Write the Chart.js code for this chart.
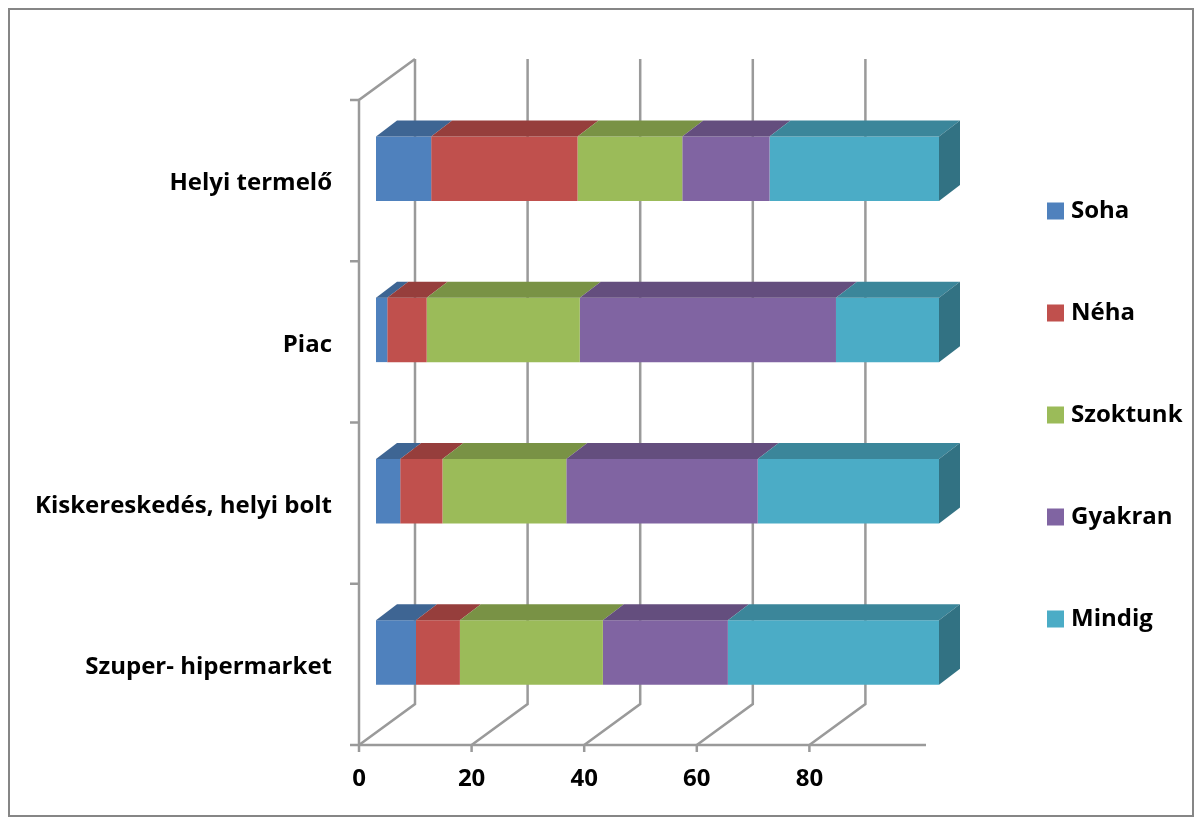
<!DOCTYPE html>
<html>
<head>
<meta charset="utf-8">
<script src="https://cdn.jsdelivr.net/npm/chart.js@4"></script>
<style>
  html, body { margin: 0; padding: 0; background: #fff; }
  #wrap { width: 1202px; height: 825px; position: relative; }
</style>
</head>
<body>
<div id="wrap"><canvas id="chart" width="1202" height="825"></canvas></div>
<script>
const categories = ['Helyi termelő', 'Piac', 'Kiskereskedés, helyi bolt', 'Szuper- hipermarket'];
const seriesNames = ['Soha', 'Néha', 'Szoktunk', 'Gyakran', 'Mindig'];
const soha     = [9.8, 2.0, 4.3, 7.1];
const neha     = [26.0, 7.0, 7.5, 7.8];
const szoktunk = [18.6, 27.2, 22.0, 25.4];
const gyakran  = [15.5, 45.5, 34.0, 22.2];
const mindig   = [30.1, 18.3, 32.2, 37.5];
const xTicks = [0, 20, 40, 60, 80];

const colors = ['#4F81BD', '#C0504D', '#9BBB59', '#8064A2', '#4BACC6'];
const FONT = '"Open Sans", Lato, sans-serif';
const FONT_SIZE = 24;
const GRID = '#9a9a9a';

// oblique 3D offsets (px) relative to the bar front plane
const FRONT = { dx: -17, dy: 12 };
const BACK = { dx: 39, dy: -29 };
const BAR_DEPTH = { dx: 21, dy: -16 };

function shade(hex, f) {
    const n = parseInt(hex.slice(1), 16);
    const r = Math.round(((n >> 16) & 255) * f);
    const g = Math.round(((n >> 8) & 255) * f);
    const b = Math.round((n & 255) * f);
    return `rgb(${r},${g},${b})`;
}

const wallsPlugin = {
    id: 'walls',
    beforeDraw(chart) {
        const c = chart.ctx;
        c.save();
        c.fillStyle = '#fff';
        c.fillRect(0, 0, chart.width, chart.height);
        c.strokeStyle = '#868686';
        c.lineWidth = 2;
        c.strokeRect(9, 9, 1184, 807);
        c.restore();
    },
    beforeDatasetsDraw(chart) {
        const c = chart.ctx;
        const a = chart.chartArea;
        const xs = chart.scales.x;
        const fTop = a.top + FRONT.dy, fBot = a.bottom + FRONT.dy;
        const bTop = a.top + BACK.dy, bBot = a.bottom + BACK.dy;
        c.save();
        c.strokeStyle = GRID;
        c.lineWidth = 2.5;
        // back wall gridlines + floor diagonals
        xTicks.forEach(v => {
            const px = xs.getPixelForValue(v);
            c.beginPath();
            c.moveTo(px + BACK.dx, bTop);
            c.lineTo(px + BACK.dx, bBot);
            c.lineTo(px + FRONT.dx, fBot);
            c.stroke();
            // small tick below front axis
            c.beginPath();
            c.moveTo(px + FRONT.dx, fBot);
            c.lineTo(px + FRONT.dx, fBot + 7);
            c.stroke();
        });
        // left wall
        const x0 = xs.getPixelForValue(0);
        c.beginPath();
        c.moveTo(x0 + BACK.dx, bTop);
        c.lineTo(x0 + FRONT.dx, fTop);
        c.lineTo(x0 + FRONT.dx, fBot);
        c.stroke();
        // front axis line
        c.beginPath();
        c.moveTo(x0 + FRONT.dx, fBot);
        c.lineTo(xs.getPixelForValue(100) + FRONT.dx + 4, fBot);
        c.stroke();
        // category ticks on the left wall
        const n = categories.length;
        for (let i = 0; i <= n; i++) {
            const y = fTop + (fBot - fTop) * i / n;
            c.beginPath();
            c.moveTo(x0 + FRONT.dx - 9, y);
            c.lineTo(x0 + FRONT.dx, y);
            c.stroke();
        }
        c.restore();
    },
    afterDatasetsDraw(chart) {
        const c = chart.ctx;
        c.save();
        const nCat = categories.length;
        for (let j = 0; j < nCat; j++) {
            let last = null;
            chart.data.datasets.forEach((ds, i) => {
                const el = chart.getDatasetMeta(i).data[j];
                const p = el.getProps(['x', 'y', 'base', 'height'], true);
                const left = Math.min(p.x, p.base), right = Math.max(p.x, p.base);
                if (right - left < 0.5) return;
                const top = p.y - p.height / 2;
                c.fillStyle = shade(colors[i], 0.78);
                c.beginPath();
                c.moveTo(left, top);
                c.lineTo(left + BAR_DEPTH.dx, top + BAR_DEPTH.dy);
                c.lineTo(right + BAR_DEPTH.dx, top + BAR_DEPTH.dy);
                c.lineTo(right, top);
                c.closePath();
                c.fill();
                last = { i, right, top, bottom: p.y + p.height / 2 };
            });
            if (last) {
                c.fillStyle = shade(colors[last.i], 0.66);
                c.beginPath();
                c.moveTo(last.right, last.top);
                c.lineTo(last.right + BAR_DEPTH.dx, last.top + BAR_DEPTH.dy);
                c.lineTo(last.right + BAR_DEPTH.dx, last.bottom + BAR_DEPTH.dy);
                c.lineTo(last.right, last.bottom);
                c.closePath();
                c.fill();
            }
        }
        c.restore();
    },
    afterDraw(chart) {
        // legend
        const c = chart.ctx;
        c.save();
        c.font = `bold ${FONT_SIZE}px ${FONT}`;
        c.textBaseline = 'middle';
        c.textAlign = 'left';
        seriesNames.forEach((name, i) => {
            const y = 211 + i * 102;
            c.fillStyle = colors[i];
            c.fillRect(1047, y - 8.5, 17, 17);
            c.fillStyle = '#000';
            c.fillText(name, 1071, y);
        });
        c.restore();
    }
};

const seriesData = [soha, neha, szoktunk, gyakran, mindig];

new Chart(document.getElementById('chart'), {
    type: 'bar',
    data: {
        labels: categories,
        datasets: seriesNames.map((name, i) => ({
            label: name,
            data: seriesData[i],
            backgroundColor: colors[i],
            borderWidth: 0,
            barPercentage: 0.4,
            categoryPercentage: 1
        }))
    },
    options: {
        indexAxis: 'y',
        responsive: false,
        animation: false,
        layout: { padding: { left: 0, right: 263, top: 88, bottom: 0 } },
        plugins: {
            legend: { display: false },
            tooltip: { enabled: false }
        },
        scales: {
            x: {
                stacked: true,
                min: 0,
                max: 100,
                grid: { display: false, drawTicks: false },
                border: { display: false },
                afterFit(scale) { scale.height = 92; },
                afterBuildTicks(scale) { scale.ticks = xTicks.map(v => ({ value: v })); },
                ticks: {
                    color: '#000',
                    font: { family: FONT, size: FONT_SIZE, weight: 'bold' },
                    padding: 32,
                    labelOffset: -17,
                    maxRotation: 0
                }
            },
            y: {
                stacked: true,
                grid: { display: false, drawTicks: false },
                border: { display: false },
                afterFit(scale) { scale.width = 376; },
                ticks: {
                    color: '#000',
                    font: { family: FONT, size: FONT_SIZE, weight: 'bold' },
                    padding: 44,
                    labelOffset: 15
                }
            }
        }
    },
    plugins: [wallsPlugin]
});
</script>
</body>
</html>
